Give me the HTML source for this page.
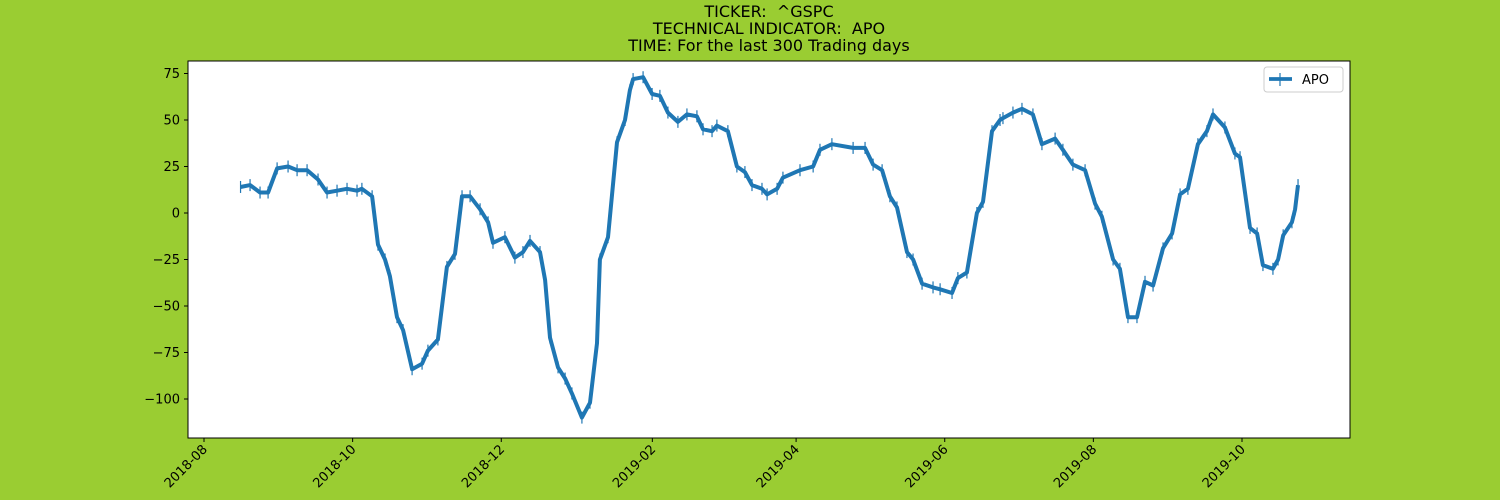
<!DOCTYPE html>
<html><head><meta charset="utf-8">
<style>
body{margin:0;background:#9acd32;}
svg{display:block;font-family:"DejaVu Sans","Liberation Sans",sans-serif;}
</style></head>
<body>
<svg id="chart" width="1500" height="500" viewBox="0 0 1500 500">
<rect width="1500" height="500" fill="#9acd32"/>
<g font-size="16" text-anchor="middle" fill="#000">
<text x="769" y="17">TICKER: &#160;^GSPC</text>
<text x="769" y="34">TECHNICAL INDICATOR: &#160;APO</text>
<text x="769" y="51">TIME: For the last 300 Trading days</text>
</g>
<rect x="188" y="61" width="1162" height="377" fill="#fff"/>
<g id="yaxis"></g>
<g id="xaxis"></g>
<g id="series"></g>
<rect x="188" y="61" width="1162" height="377" fill="none" stroke="#000" stroke-width="1"/>
<g>
<rect x="1264" y="67" width="79" height="25" rx="3" fill="#fff" stroke="#ccc"/>
<line x1="1269" y1="79" x2="1292" y2="79" stroke="#1f77b4" stroke-width="3.8"/>
<line x1="1280" y1="73" x2="1280" y2="86" stroke="#1f77b4" stroke-width="1.2"/>
<text x="1302" y="84" font-size="13">APO</text>
</g>
</svg>
<script>
// days since 2018-08-01
const days=[15,18.9,23,26.3,30,34.5,38.2,42.3,46.8,50.5,54.6,58.7,62.8,64.8,69,71.4,74.3,76.3,79.2,81.7,85.4,89.5,91.9,96,99.7,103,105.9,109.2,113.3,116.6,118.6,123.5,127.6,130.9,133.8,137.9,140,142,145.3,148.2,151,155.1,158.4,161.3,162.5,165.8,169.5,172.8,174.8,176.1,180.2,183.9,187.1,190.4,194.5,198.2,202.3,204.8,208.5,210.5,215,218.7,222,224.9,229,231.1,235.2,237.6,244.6,250,252.8,257.7,266.4,271.3,274.6,278.3,281.5,284.4,288.5,291,294.7,299.2,302.1,307,309.4,313.1,317.2,319.7,323.4,326.7,327.9,332,335.7,340.2,343.9,349.3,352.5,356.6,361.6,365.7,368.5,373.1,375.9,379.2,382.9,386.2,389.5,393.6,397.3,400.6,403.8,407.9,411.6,414.1,419,423.1,425.2,429.3,432.2,434.6,438.7,440.8,442.9,446.5,447.8,449];
const apo=[14,15,11,11,24,25,23,23,18,11,12,13,12,13,9,-17,-25,-34,-56,-63,-84,-81,-74,-68,-29,-22,9,9,2,-5,-16,-13,-24,-21,-15,-21,-36,-67,-83,-89,-97,-110,-102,-70,-25,-13,38,50,66,72,73,64,63,54,49,53,52,45,44,47,44,25,22,15,13,10,13,19,23,25,34,37,35,35,26,23,9,3,-21,-25,-38,-40,-41,-43,-35,-32,0,6,44,50,51,54,56,53,37,40,34,26,23,5,-2,-25,-30,-56,-56,-37,-39,-19,-11,10,13,37,44,53,46,32,30,-8,-11,-28,-30,-25,-12,-5,2,15];
const yTicks=[75,50,25,0,-25,-50,-75,-100];
const xTickDays=[0,61,122,184,243,304,365,426];
const xTickLabels=["2018-08","2018-10","2018-12","2019-02","2019-04","2019-06","2019-08","2019-10"];
const NS="http://www.w3.org/2000/svg";
function xs(d){return 204+d*2.4366;}
function ys(v){return 213-v*1.86;}
function mk(t,a,p){const e=document.createElementNS(NS,t);for(const k in a)e.setAttribute(k,a[k]);p.appendChild(e);return e;}
const ya=document.getElementById('yaxis'),xa=document.getElementById('xaxis'),sg=document.getElementById('series');
yTicks.forEach(v=>{
  const y=ys(v);
  const l=mk('line',{x1:184,x2:188,y1:y,y2:y,stroke:'#000'},ya);
  
  
  const t=mk('text',{x:180,y:y+4.5,'font-size':13,'text-anchor':'end'},ya);
  t.textContent=v<0?'\u2212'+Math.abs(v):String(v);
  
  
});
xTickDays.forEach((d,i)=>{
  const x=xs(d);
  const l=mk('line',{x1:x,x2:x,y1:438,y2:442,stroke:'#000'},xa);
  
  
  const t=mk('text',{x:x+4,y:450,'font-size':13,'text-anchor':'end',transform:'rotate(-45 '+(x+4)+' 450)'},xa);
  t.textContent=xTickLabels[i];
  
  
});
const pts=days.map((d,i)=>xs(d).toFixed(1)+','+ys(apo[i]).toFixed(1)).join(' ');
const pl=mk('polyline',{points:pts,fill:'none',stroke:'#1f77b4','stroke-width':4,'stroke-linejoin':'round'},sg);


days.forEach((d,i)=>{
  const x=xs(d),y=ys(apo[i]);
  const m=mk('line',{x1:x,x2:x,y1:y-6,y2:y+6,stroke:'#1f77b4','stroke-width':1.2},sg);
  
  
});
</script>
</body></html>
